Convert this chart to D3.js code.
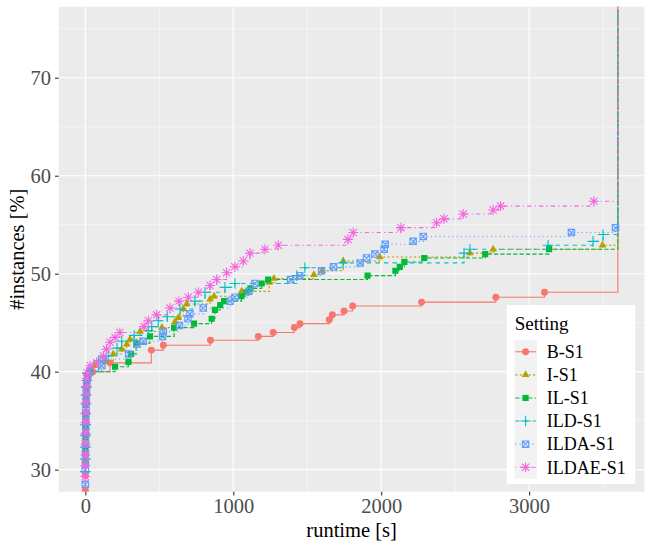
<!DOCTYPE html>
<meta charset="utf-8">
<script src="https://d3js.org/d3.v7.min.js"></script>
<style>
body{margin:0;background:#fff;}
svg text{font-family:Liberation Serif,LiberationSerif,Tinos,Times,Nimbus Roman,FreeSerif,Noto Serif,DejaVu Serif,serif;}
</style>
<body>
<div id="chart"></div>
<script>
// runtime [s] / solved instances [%] per setting
const settings = ["B-S1", "I-S1", "IL-S1", "ILD-S1", "ILDA-S1", "ILDAE-S1"];
const timeout = 3600;
const xTicks = [0, 1000, 2000, 3000];
const yTicks = [30, 40, 50, 60, 70];

const bS1 = [[0,27.9],[0,29.4],[1,30.6],[1,31.5],[2,32.4],[2,33.3],[3,34.1],[3,35.0],[4,35.9],[5,36.8],[7,37.6],[9,38.4],[12,39.1],[20,39.6],
  [50,40.0],[167,40.9],[446,42.2],[527,42.7],[846,43.2],[1169,43.6],[1270,44.0],[1413,44.5],[1451,44.9],[1649,45.3],[1670,45.8],
  [1749,46.2],[1807,46.7],[2273,47.1],[2775,47.6],[3104,48.1]];
const iS1 = [[0,30.9],[1,32.0],[1,33.2],[2,34.4],[2,35.6],[3,36.7],[4,37.5],[6,38.3],[9,39.0],[14,39.6],[25,40.1],[60,40.6],
  [133,41.0],[189,41.8],[246,42.3],[280,42.8],[302,43.3],[370,44.1],[518,44.5],[606,45.1],[628,45.5],[662,46.4],[685,46.9],
  [843,47.4],[870,47.7],[1057,48.2],[1243,49.1],[1275,49.5],[1545,49.9],[1600,50.3],[1743,51.3],[1991,51.7],[2599,52.1],
  [2757,52.5],[3496,52.9]];
const ilS1 = [[0,32.3],[1,33.4],[1,34.5],[2,35.6],[3,36.6],[4,37.5],[5,38.3],[8,39.0],[12,39.6],[30,40.0],[201,40.5],[291,41.0],
  [309,41.8],[343,42.9],[437,43.6],[600,44.5],[735,44.9],[854,45.4],[876,46.3],[912,46.8],[938,47.2],[1055,47.7],[1090,48.1],
  [1116,48.5],[1192,49.0],[1236,49.4],[1908,49.8],[2096,50.3],[2126,50.7],[2157,51.2],[2291,51.6],[2703,52.0],[3135,52.5]];
const ildS1 = [[0,29.8],[0,31.1],[1,32.3],[1,33.5],[2,34.6],[3,35.7],[4,36.7],[5,37.6],[7,38.4],[10,39.1],[16,39.8],[88,41.1],
  [155,41.6],[214,42.4],[246,43.1],[330,43.7],[426,44.2],[449,44.6],[493,45.2],[554,45.6],[640,46.4],[741,47.2],[809,48.1],
  [944,48.6],[1011,49.0],[1430,49.8],[1484,50.6],[1743,51.1],[2560,52.1],[2600,52.5],[3128,52.9],[3432,53.3],[3500,54.0]];
const ildaS1 = [[0,28.5],[0,30.0],[1,30.8],[1,31.7],[2,32.6],[2,33.5],[3,34.4],[4,35.3],[5,36.2],[6,37.0],[8,37.9],[11,38.7],
  [16,39.4],[32,40.1],[111,40.6],[122,41.3],[293,41.8],[349,42.8],[392,43.1],[522,43.6],[527,44.1],[636,44.7],[694,45.4],
  [707,45.9],[797,46.5],[978,47.2],[1011,47.6],[1106,48.2],[1146,49.0],[1388,49.4],[1449,49.8],[1597,50.3],[1678,50.7],
  [1858,51.1],[1901,51.6],[1957,52.0],[2020,52.5],[2027,53.0],[2216,53.3],[2284,53.8],[3286,54.2],[3584,54.7]];
const ildaeS1 = [[0,29.3],[0,30.4],[1,31.5],[1,32.6],[2,33.7],[2,34.8],[3,35.8],[4,36.8],[5,37.7],[7,38.5],[9,39.3],[12,39.9],
  [32,40.6],[77,40.9],[122,41.6],[143,42.3],[167,43.0],[201,43.5],[234,44.0],[397,44.6],[426,45.2],[482,45.8],[572,46.5],
  [633,47.2],[696,47.6],[764,48.1],[843,48.8],[888,49.4],[955,50.1],[1011,50.7],[1068,51.3],[1113,52.1],[1214,52.5],
  [1304,52.9],[1775,53.5],[1811,54.2],[2133,54.7],[2374,55.2],[2424,55.6],[2554,56.1],[2757,56.5],[2807,56.9],[3437,57.4]];
const seriesValues = [bS1, iS1, ilS1, ildS1, ildaS1, ildaeS1];

// ggplot hue palette, default shapes / linetypes
const colors = ["#F8766D", "#B79F00", "#00BA38", "#00BFC4", "#619CFF", "#F564E3"];
const dashes = ["none", "2.2,2.2", "4.3,2.1", "4.3,4.3", "1.1,3.2", "1.1,3.2,4.3,3.2"];
const shapes = ["circle", "triangle", "square", "plus", "boxx", "asterisk"];

const W = 652, H = 548;
const panel = {left: 58.7, right: 644.5, top: 6.7, bottom: 491.7};

const svg = d3.select("#chart").append("svg")
  .attr("width", W).attr("height", H);

// 5% expansion like ggplot
const x = d3.scaleLinear().domain([-timeout*0.05, timeout*1.05]).range([panel.left, panel.right]);
const y = d3.scaleLinear().domain([27.75, 77.25]).range([panel.bottom, panel.top]);

svg.append("rect")
  .attr("x", panel.left).attr("y", panel.top)
  .attr("width", panel.right - panel.left).attr("height", panel.bottom - panel.top)
  .attr("fill", "#EBEBEB");

svg.append("clipPath").attr("id", "clip")
  .append("rect")
  .attr("x", panel.left).attr("y", panel.top)
  .attr("width", panel.right - panel.left).attr("height", panel.bottom - panel.top);

// grid
const grid = svg.append("g");
const xMinor = xTicks.map(d => d + 500);
const yMinor = yTicks.map(d => d + 5);
grid.selectAll(".xm").data(xMinor).join("line")
  .attr("x1", d => x(d)).attr("x2", d => x(d))
  .attr("y1", panel.top).attr("y2", panel.bottom)
  .attr("stroke", "#fff").attr("stroke-width", 0.55);
grid.selectAll(".ym").data(yMinor).join("line")
  .attr("y1", d => y(d)).attr("y2", d => y(d))
  .attr("x1", panel.left).attr("x2", panel.right)
  .attr("stroke", "#fff").attr("stroke-width", 0.55);
grid.selectAll(".xM").data(xTicks).join("line")
  .attr("x1", d => x(d)).attr("x2", d => x(d))
  .attr("y1", panel.top).attr("y2", panel.bottom)
  .attr("stroke", "#fff").attr("stroke-width", 1.1);
grid.selectAll(".yM").data(yTicks).join("line")
  .attr("y1", d => y(d)).attr("y2", d => y(d))
  .attr("x1", panel.left).attr("x2", panel.right)
  .attr("stroke", "#fff").attr("stroke-width", 1.1);

// axes
const xAxis = svg.append("g")
  .attr("transform", "translate(0," + panel.bottom + ")")
  .call(d3.axisBottom(x).tickValues(xTicks).tickSize(3.7).tickPadding(3).tickFormat(d3.format("d")));
const yAxis = svg.append("g")
  .attr("transform", "translate(" + panel.left + ",0)")
  .call(d3.axisLeft(y).tickValues(yTicks).tickSize(3.7).tickPadding(4));
[xAxis, yAxis].forEach(a => {
  a.attr("font-family", null).attr("font-size", null);
  a.select(".domain").remove();
  a.selectAll(".tick line").attr("stroke", "#333333").attr("stroke-width", 1.1);
  a.selectAll(".tick text").attr("fill", "#4D4D4D").style("font-size", "20.5px");
});

svg.append("text")
  .attr("x", (panel.left + panel.right) / 2).attr("y", 537)
  .attr("text-anchor", "middle").style("font-size", "20.5px")
  .text("runtime [s]");
svg.append("text")
  .attr("transform", "translate(24," + (panel.top + panel.bottom) / 2 + ") rotate(-90)")
  .attr("text-anchor", "middle").style("font-size", "20.5px")
  .text("#instances [%]");

// symbols
function symbolPath(shape) {
  switch (shape) {
    case "circle": return d3.symbol(d3.symbolCircle, 38)();
    case "triangle": return d3.symbol(d3.symbolTriangle, 26)();
    case "square": return d3.symbol(d3.symbolSquare, 38)();
    case "plus": return "M-5.3,0H5.3M0,-5.3V5.3";
    case "boxx": return "M-3.2,-3.2H3.2V3.2H-3.2ZM-3.2,-3.2L3.2,3.2M3.2,-3.2L-3.2,3.2";
    case "asterisk": return "M-5,0H5M0,-5V5M-3.6,-3.6L3.6,3.6M3.6,-3.6L-3.6,3.6";
  }
}
function drawSymbol(sel, i) {
  const filled = ["circle", "triangle", "square"].includes(shapes[i]);
  sel.attr("d", symbolPath(shapes[i]))
    .attr("fill", filled ? colors[i] : "none")
    .attr("stroke", filled ? "none" : colors[i])
    .attr("stroke-width", 1.1);
}

const plot = svg.append("g").attr("clip-path", "url(#clip)");
const line = d3.line().x(d => x(d[0])).y(d => y(d[1])).curve(d3.curveStepAfter);

// step lines run out to the timeout and then off the top
seriesValues.forEach((vals, i) => {
  plot.append("path")
    .datum(vals.concat([[timeout, vals[vals.length - 1][1]], [timeout, 100]]))
    .attr("d", line)
    .attr("fill", "none")
    .attr("stroke", colors[i])
    .attr("stroke-width", 1.1)
    .attr("stroke-dasharray", dashes[i]);
});
seriesValues.forEach((vals, i) => {
  plot.append("g").selectAll("path").data(vals).join("path")
    .attr("transform", d => "translate(" + x(d[0]) + "," + y(d[1]) + ")")
    .call(drawSymbol, i);
});

// legend
const lg = svg.append("g").attr("transform", "translate(506.7,305)");
lg.append("rect").attr("width", 128.5).attr("height", 179).attr("fill", "#fff");
lg.append("text").attr("x", 8).attr("y", 24.5).style("font-size", "19px").text("Setting");
const keyH = 23.1, keyTop = 35.2;
settings.forEach((s, i) => {
  const row = lg.append("g").attr("transform", "translate(7.6," + (keyTop + i * keyH) + ")");
  row.append("rect").attr("width", 22.6).attr("height", keyH).attr("fill", "#F2F2F2");
  row.append("line").attr("x1", 1).attr("x2", 21.6)
    .attr("y1", keyH / 2).attr("y2", keyH / 2)
    .attr("stroke", colors[i]).attr("stroke-width", 1.1)
    .attr("stroke-dasharray", dashes[i]);
  row.append("path").attr("transform", "translate(11.3," + keyH / 2 + ")").call(drawSymbol, i);
  row.append("text").attr("x", 32.4).attr("y", keyH / 2 + 6.3)
    .style("font-size", "18px").text(s);
});
</script>
</body>
